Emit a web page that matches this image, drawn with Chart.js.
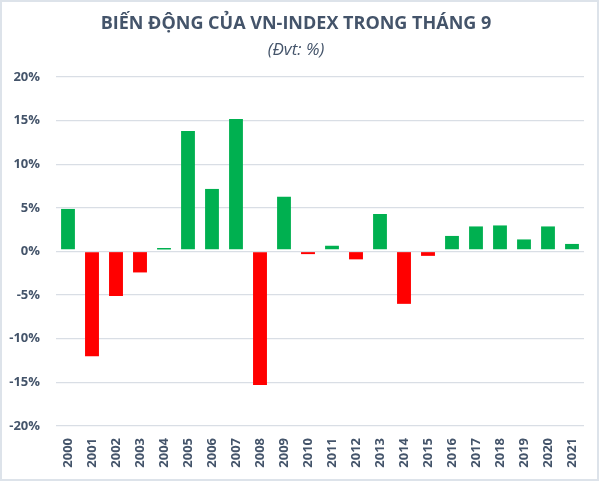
<!DOCTYPE html>
<html>
<head>
<script src="https://cdn.jsdelivr.net/npm/chart.js@4/dist/chart.umd.min.js"></script>
<style>
  body { margin: 0; background: #fff; }
  #wrap { position: absolute; left: 0; top: 0; width: 595px; height: 477px; border: 2px solid #dde3ea; }
</style>
<script>
// bien dong VN-Index trong thang 9, don vi %
var years = ['2000','2001','2002','2003','2004','2005','2006','2007','2008','2009','2010',
             '2011','2012','2013','2014','2015','2016','2017','2018','2019','2020','2021'];
var changes = [4.9, -12.0, -5.1, -2.4, 0.4, 13.8, 7.2, 15.2, -15.3, 6.3, -0.3,
               0.7, -0.9, 4.3, -6.0, -0.5, 1.8, 2.9, 3.0, 1.4, 2.9, 0.9];
var yTicks = [-20, -15, -10, -5, 0, 5, 10, 15, 20];

var textCol = '#44546a';

function drawChart() {
  var ctx = document.getElementById('canvas').getContext('2d');
  window.myBar = new Chart(ctx, {
    type: 'bar',
    data: {
      labels: years,
      datasets: [{
        label: 'VN-Index',
        data: changes,
        backgroundColor: changes.map(v => v >= 0 ? '#00b050' : '#ff0000'),
        // thin white line at the base of the up bars, like the excel original
        borderColor: '#ffffff',
        borderWidth: c => c.raw >= 0 ? { top: 0, left: 0, right: 0, bottom: 1.5 } : 0,
        borderSkipped: false,
        barPercentage: 0.58,
        categoryPercentage: 1
      }]
    },
    options: {
      responsive: false,
      animation: false,
      layout: { padding: { left: 6, right: 13, top: 0, bottom: 0 } },
      plugins: {
        legend: { display: false },
        tooltip: { enabled: false },
        title: {
          display: true,
          text: 'BIẾN ĐỘNG CỦA VN-INDEX TRONG THÁNG 9',
          color: textCol,
          font: { family: 'Open Sans', size: 18, weight: 'bold' },
          padding: { top: 11, bottom: 5 }
        },
        subtitle: {
          display: true,
          text: '(Đvt: %)',
          color: textCol,
          font: { family: 'Open Sans', size: 17, style: 'italic' },
          padding: { top: 0, bottom: 17 }
        }
      },
      scales: {
        x: {
          grid: { display: false },
          border: { display: false },
          ticks: {
            color: textCol,
            font: { family: 'Open Sans', size: 13, weight: 'bold' },
            maxRotation: 90, minRotation: 90,
            padding: 4
          },
          afterFit: s => { s.height = 53; }
        },
        y: {
          min: -20, max: 20,
          afterBuildTicks: s => { s.ticks = yTicks.map(v => ({ value: v })); },
          grid: { color: '#d9dee5', lineWidth: 1.3, drawTicks: false },
          border: { display: false },
          ticks: {
            color: textCol,
            font: { family: 'Open Sans', size: 13, weight: 'bold' },
            padding: 16,
            callback: v => v + '%'
          },
          afterFit: s => { s.width = 48; }
        }
      }
    }
  });
}
window.addEventListener('load', drawChart);
</script>
</head>
<body>
  <div id="wrap"><canvas id="canvas" width="595" height="477"></canvas></div>
</body>
</html>
